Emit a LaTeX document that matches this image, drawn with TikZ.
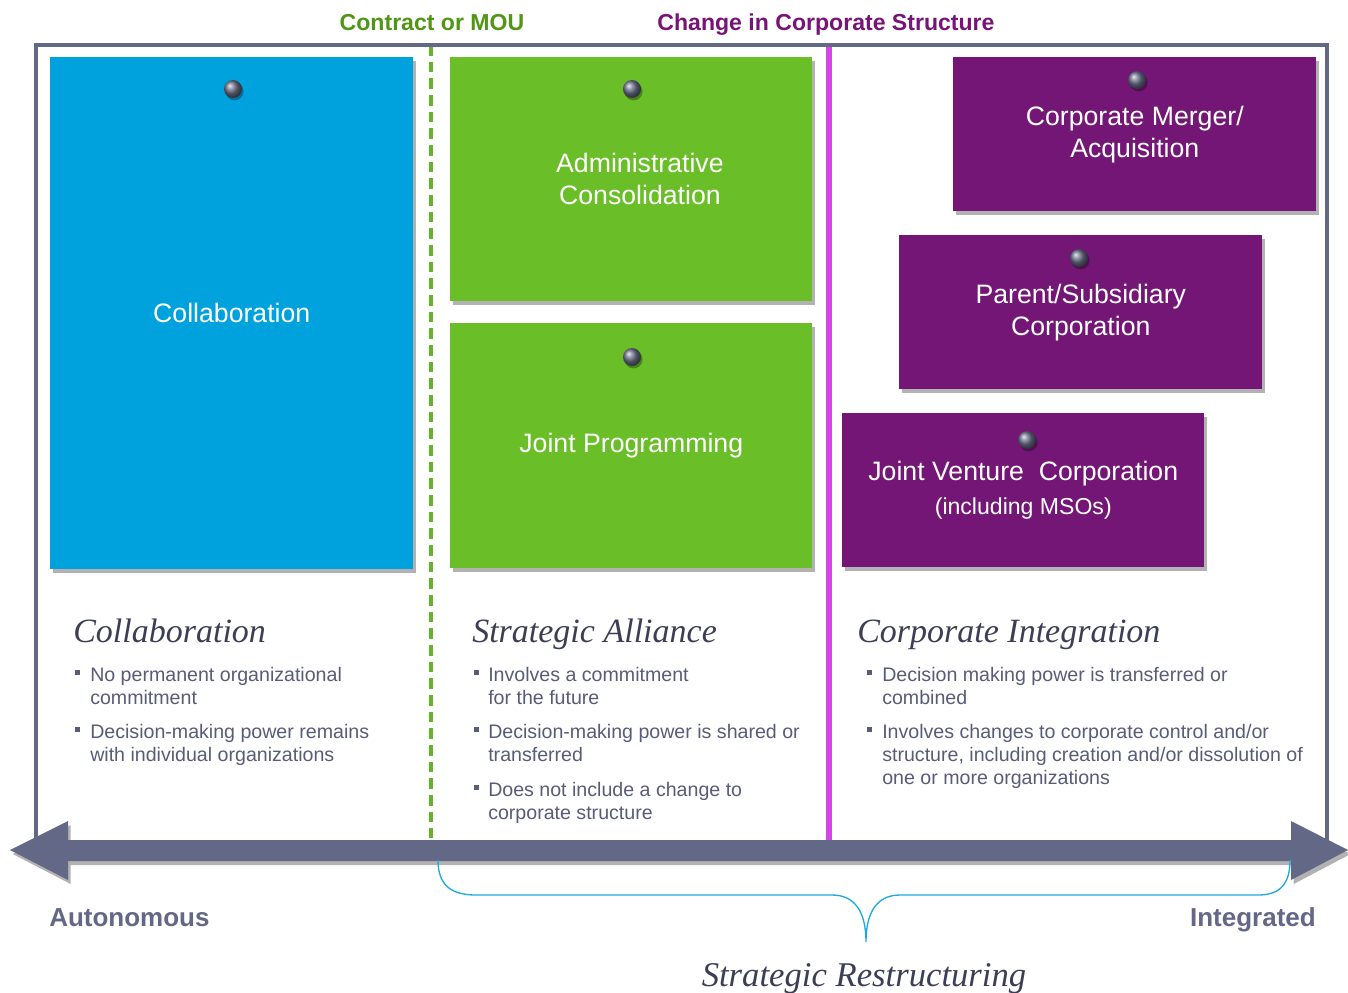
\documentclass[tikz,border=0pt]{standalone}
\usepackage{fontspec}
\setmainfont{Liberation Sans}
\newfontfamily\hserif{Liberation Serif}
\usetikzlibrary{shadows}
\definecolor{cblue}{RGB}{0,162,222}
\definecolor{cgreen}{RGB}{106,190,40}
\definecolor{cpurple}{RGB}{115,22,118}
\definecolor{cframe}{RGB}{99,104,134}
\definecolor{cmagenta}{RGB}{210,70,230}
\definecolor{cdash}{RGB}{100,180,40}
\definecolor{cgtext}{RGB}{80,150,20}
\definecolor{cptext}{RGB}{120,20,120}
\definecolor{cbody}{RGB}{88,92,120}
\definecolor{chead}{RGB}{60,62,85}
\definecolor{cbrace}{RGB}{30,170,225}
\definecolor{cpin}{RGB}{110,115,140}
\begin{document}
\begin{tikzpicture}[x=0.75pt,y=-0.75pt,
  card/.style={draw=none, inner sep=0pt, anchor=north west, align=center, text=white,
    font=\fontsize{20}{24}\selectfont,
    drop shadow={shadow xshift=2pt, shadow yshift=-2.5pt, opacity=0.3, fill=black}},
  tack/.style={circle, inner sep=0pt, minimum size=13.5pt, ball color=cpin,
    drop shadow={shadow xshift=1.2pt, shadow yshift=-1.8pt, opacity=0.3, fill=black}},
  heading/.style={anchor=base west, inner sep=0pt, text=chead, font=\hserif\itshape\fontsize{25.5}{30}\selectfont},
  bullettext/.style={anchor=base west, inner sep=0pt, text=cbody, font=\fontsize{14.7}{17.3}\selectfont},
  bulletmark/.style={fill=cbody, inner sep=0pt, minimum size=3.8pt},
  toplabel/.style={anchor=base, inner sep=0pt, font=\bfseries\fontsize{17.3}{20}\selectfont},
  endlabel/.style={inner sep=0pt, text=cframe, font=\bfseries\fontsize{19.5}{23}\selectfont},
]
\useasboundingbox (0,0) rectangle (1348,992);
\fill[white] (0,0) rectangle (1348,992);

% boxes
\node[card, fill=cblue, minimum width=272.25pt, minimum height=384pt] (collab) at (50,57) {Collaboration};
\node[card, fill=cgreen, minimum width=271.5pt, minimum height=183pt] (admin) at (450,57) {\hspace*{13pt}Administrative\\\hspace*{13pt}Consolidation};
\node[card, fill=cgreen, minimum width=271.5pt, minimum height=183.75pt] (jprog) at (450,323) {Joint Programming};
\node[card, fill=cpurple, minimum width=272.25pt, minimum height=115.5pt] (merger) at (953,57) {Corporate Merger/\\Acquisition};
\node[card, fill=cpurple, minimum width=272.25pt, minimum height=115.5pt] (parent) at (899,235) {Parent/Subsidiary\\Corporation};
\node[card, fill=cpurple, minimum width=271.5pt, minimum height=115.5pt] (jv) at (842,413) {Joint Venture\ \ Corporation\\[2pt]{\fontsize{17.3}{21}\selectfont(including MSOs)}};

% pins
\node[tack] (p1) at (233,89) {};
\node[tack] (p2) at (632,89) {};
\node[tack] (p3) at (632,357) {};
\node[tack] (p4) at (1137,80) {};
\node[tack] (p5) at (1079,258) {};
\node[tack] (p6) at (1027,440) {};

% separators
\draw[cdash, line width=3pt, dash pattern=on 8pt off 4.5pt] (431,45) -- (431,838);
\draw[cmagenta, line width=3.8pt] (829,45) -- (829,840);

% frame
\draw[cframe, line width=2.4pt] (36,850) -- (36,45) -- (1327,45) -- (1327,850);

% axis arrow
\fill[cframe, drop shadow={shadow xshift=2pt, shadow yshift=-3pt, opacity=0.3, fill=black}]
  (10,850) -- (68,821) -- (68,840) -- (1291,840) -- (1291,821) -- (1348,850)
  -- (1291,880) -- (1291,861) -- (68,861) -- (68,880) -- cycle;

% top labels
\node[toplabel, text=cgtext] (mou) at (432,30) {Contract or MOU};
\node[toplabel, text=cptext] (chg) at (826,30) {Change in Corporate Structure};

% end labels
\node[endlabel, anchor=base west] (auto) at (49,926) {Autonomous};
\node[endlabel, anchor=base east] (integ) at (1316,926) {Integrated};

% brace
\coordinate (bl) at (438,860);
\coordinate (br) at (1290,860);
\coordinate (bt) at (866,942);
\draw[cbrace, line width=1pt] (bl) .. controls (438,886) and (452,895) .. (476,895) -- (832,895)
  .. controls (855,895) and (866,912) .. (bt) .. controls (866,912) and (877,895) .. (900,895)
  -- (1258,895) .. controls (1280,895) and (1290,884) .. (br);
\node[anchor=base, inner sep=0pt, text=chead, font=\hserif\itshape\fontsize{26}{30}\selectfont] (sr) at (864,986) {Strategic Restructuring};

% headings
\node[heading] (h1) at (73,642) {Collaboration};
\node[heading] (h2) at (472,642) {Strategic Alliance};
\node[heading] (h3) at (857,642) {Corporate Integration};

% column 1 bullets
\node[bulletmark] (m11) at (77.5,672.5) {};
\node[bullettext] (t11) at (90,681) {\begin{tabular}[t]{@{}l@{}}No permanent organizational\\commitment\end{tabular}};
\node[bulletmark] (m12) at (77.5,729.5) {};
\node[bullettext] (t12) at (90,738) {\begin{tabular}[t]{@{}l@{}}Decision-making power remains\\with individual organizations\end{tabular}};

% column 2 bullets
\node[bulletmark] (m21) at (476.5,672.5) {};
\node[bullettext] (t21) at (488,681) {\begin{tabular}[t]{@{}l@{}}Involves a commitment\\for the future\end{tabular}};
\node[bulletmark] (m22) at (476.5,729.5) {};
\node[bullettext] (t22) at (488,738) {\begin{tabular}[t]{@{}l@{}}Decision-making power is shared or\\transferred\end{tabular}};
\node[bulletmark] (m23) at (476.5,787.5) {};
\node[bullettext] (t23) at (488,796) {\begin{tabular}[t]{@{}l@{}}Does not include a change to\\corporate structure\end{tabular}};

% column 3 bullets
\node[bulletmark] (m31) at (869.5,672.5) {};
\node[bullettext] (t31) at (882,681) {\begin{tabular}[t]{@{}l@{}}Decision making power is transferred or\\combined\end{tabular}};
\node[bulletmark] (m32) at (869.5,729.5) {};
\node[bullettext] (t32) at (882,738) {\begin{tabular}[t]{@{}l@{}}Involves changes to corporate control and/or\\structure, including creation and/or dissolution of\\one or more organizations\end{tabular}};
\end{tikzpicture}
\end{document}
